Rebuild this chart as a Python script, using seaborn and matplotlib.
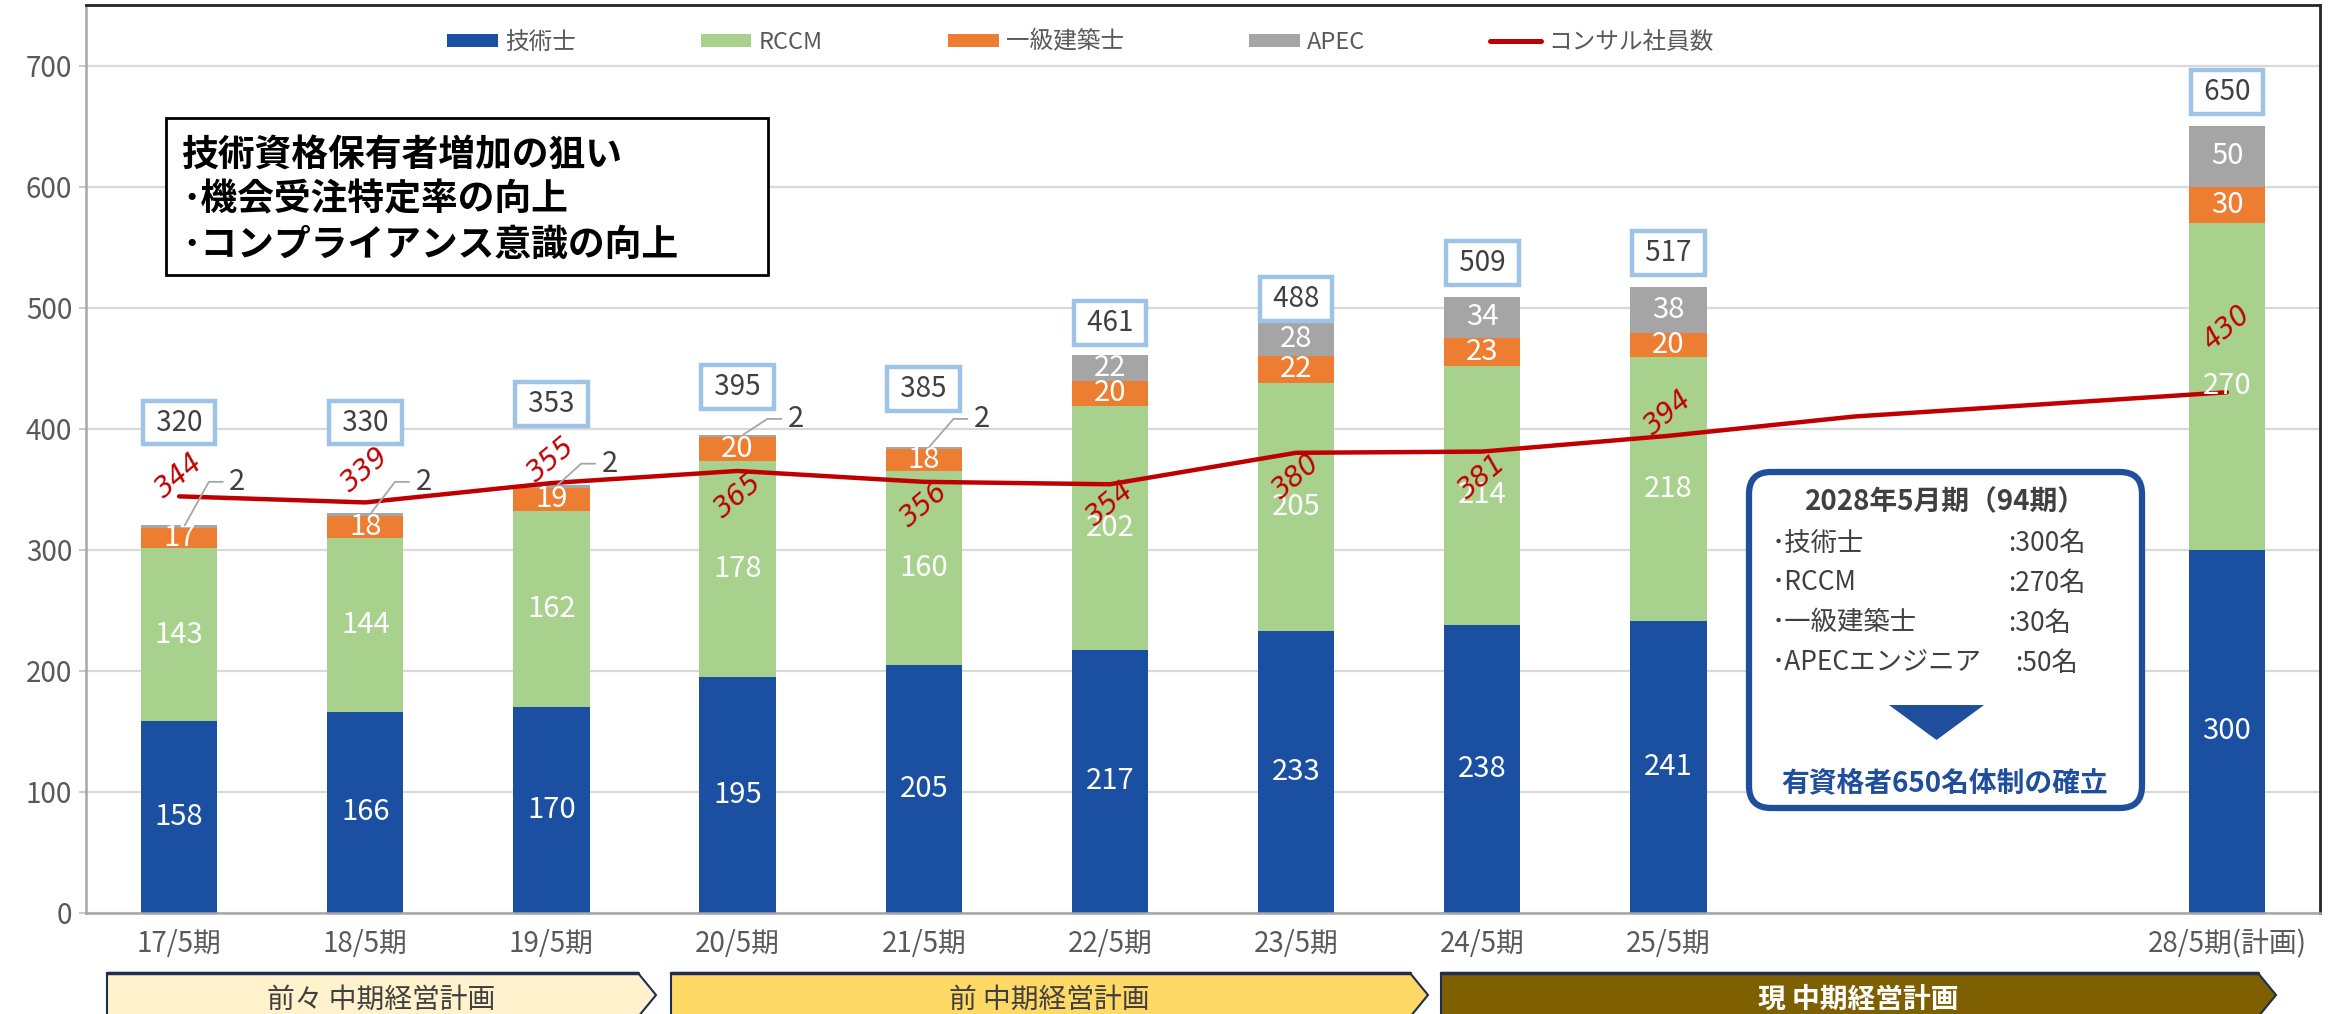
import numpy as np
import pandas as pd
import matplotlib
matplotlib.use("Agg")
import matplotlib.pyplot as plt
import seaborn as sns
from matplotlib.patches import Patch, Polygon, Rectangle, FancyBboxPatch
from matplotlib.lines import Line2D

# ---------------- data ----------------
categories = ["17/5期", "18/5期", "19/5期", "20/5期", "21/5期", "22/5期",
              "23/5期", "24/5期", "25/5期", "26/5期", "27/5期", "28/5期(計画)"]
tick_labels = ["17/5期", "18/5期", "19/5期", "20/5期", "21/5期", "22/5期",
               "23/5期", "24/5期", "25/5期", "", "", "28/5期(計画)"]
bar_categories = ["17/5期", "18/5期", "19/5期", "20/5期", "21/5期", "22/5期",
                  "23/5期", "24/5期", "25/5期", "28/5期(計画)"]
gijutsushi = [158, 166, 170, 195, 205, 217, 233, 238, 241, 300]
rccm = [143, 144, 162, 178, 160, 202, 205, 214, 218, 270]
kenchikushi = [17, 18, 19, 20, 18, 20, 22, 23, 20, 30]
apec = [2, 2, 2, 2, 2, 22, 28, 34, 38, 50]
totals = [320, 330, 353, 395, 385, 461, 488, 509, 517, 650]
consultants = [344, 339, 355, 365, 356, 354, 380, 381, 394, 410, 420, 430]
consultant_labelled = [True] * 9 + [False, False, True]

series_names = ["技術士", "RCCM", "一級建築士", "APEC"]
line_name = "コンサル社員数"
phase_labels = ["前々 中期経営計画", "前 中期経営計画", "現 中期経営計画"]
aim_lines = ["技術資格保有者増加の狙い", "･機会受注特定率の向上", "･コンプライアンス意識の向上"]
target_title = "2028年5月期（94期）"
target_items = ["･技術士", "･RCCM", "･一級建築士", "･APECエンジニア"]
target_values = [":300名", ":270名", ":30名", ":50名"]
target_goal = "有資格者650名体制の確立"

# ---------------- style ----------------
colors = ["#1A4FA1", "#A9D18E", "#ED7D31", "#A5A5A5"]
line_color = "#C00000"
text_gray = "#595959"
dark_gray = "#404040"

sns.set_theme(style="white")
plt.rcParams["font.family"] = ["Noto Sans CJK JP", "DejaVu Sans"]

W, H = 2336, 1014
fig = plt.figure(figsize=(W / 100, H / 100), dpi=100)
ax = fig.add_axes([86 / W, 1 - 912.7 / H, (2320 - 86) / W, (912.7 - 5) / H])

df = pd.DataFrame({
    "cat": bar_categories,
    "s1": gijutsushi,
    "s2": rccm,
    "s3": kenchikushi,
    "s4": apec,
})
df["c1"] = df["s1"]
df["c2"] = df["c1"] + df["s2"]
df["c3"] = df["c2"] + df["s3"]
df["c4"] = df["c3"] + df["s4"]

bw = 0.41
for col, c in zip(["c4", "c3", "c2", "c1"], colors[::-1]):
    sns.barplot(data=df, x="cat", y=col, order=categories, color=c,
                width=bw, saturation=1, errorbar=None, ax=ax, zorder=2,
                linewidth=0)

xpos = np.arange(len(categories))
sns.lineplot(x=xpos, y=consultants, color=line_color, linewidth=3.2,
             ax=ax, zorder=4, legend=False)

ax.set_xlim(-0.5, len(categories) - 0.5)
ax.set_ylim(0, 750)
ax.set_yticks(range(0, 701, 100))
ax.set_xticks(xpos, labels=tick_labels)
ax.set_xlabel("")
ax.set_ylabel("")
ax.yaxis.grid(True, color="#D9D9D9", linewidth=1.6, zorder=0)
ax.set_axisbelow(True)
ax.tick_params(axis="x", length=0, pad=12, labelsize=20, labelcolor=text_gray)
ax.tick_params(axis="y", length=5, width=1.2, color="#BFBFBF", pad=5,
               labelsize=20, labelcolor=text_gray, left=True)
for s in ["left", "bottom"]:
    ax.spines[s].set_color("#A6A6A6")
    ax.spines[s].set_linewidth(1.8)
for s in ["top", "right"]:
    ax.spines[s].set_color("#262626")
    ax.spines[s].set_linewidth(2)

bar_idx = [categories.index(c) for c in bar_categories]

# segment labels
segs = [gijutsushi, rccm, kenchikushi, apec]
leader_dy = [36, 26, 18, 13, 23]
k_leader = 0
for j, i in enumerate(bar_idx):
    base = 0
    for s in segs:
        v = s[j]
        if v >= 5:
            ax.text(i, base + v / 2, str(v), ha="center", va="center",
                    color="white", fontsize=21, zorder=5)
        else:
            top = base + v
            ty = top + leader_dy[k_leader]
            k_leader += 1
            ax.plot([i + 0.03, i + 0.16, i + 0.235], [top, ty, ty],
                    color="#A6A6A6", linewidth=1.3, zorder=5)
            ax.text(i + 0.27, ty, str(v), ha="left", va="center",
                    color=dark_gray, fontsize=21, zorder=5)
        base += v

# total boxes
total_dy = [85, 75, 67, 39, 48, 26, 19, 28, 28, 28]
for j, i in enumerate(bar_idx):
    ax.text(i, totals[j] + total_dy[j], " " + str(totals[j]) + " ",
            ha="center", va="center", color=dark_gray, fontsize=20, zorder=6,
            bbox=dict(boxstyle="square,pad=0.25", fc="white", ec="#9DC3E6", lw=3.2))

# consultant line labels
line_dy = [17, 27, 19, -21, -19, -16, -20, -21, 19, 0, 0, 53]
for i, v in enumerate(consultants):
    if consultant_labelled[i]:
        ax.text(i, v + line_dy[i], str(v), ha="center", va="center",
                color=line_color, fontsize=20, rotation=40, zorder=6,
                family="DejaVu Sans", style="italic")

# legend
handles = [Patch(facecolor=c, edgecolor="none") for c in colors] + \
          [Line2D([0], [0], color=line_color, linewidth=3.6)]
leg = ax.legend(handles, series_names + [line_name], loc="center",
                bbox_to_anchor=(0.445, 719.4 / 750), ncol=5, frameon=False,
                fontsize=17, handlelength=2.15, handleheight=0.47,
                columnspacing=5.3, handletextpad=0.3)
for t in leg.get_texts():
    t.set_color(text_gray)

# ---------------- overlay (pixel coordinates) ----------------
ov = fig.add_axes([0, 0, 1, 1], zorder=10)
ov.set_xlim(0, W)
ov.set_ylim(H, 0)
ov.axis("off")
ov.patch.set_visible(False)

# aim box
ov.add_patch(Rectangle((166, 118), 602, 157, fc="white", ec="black", lw=2))
for k, t in enumerate(aim_lines):
    ov.text(182, 155 + 45 * k, t, ha="left", va="center", fontsize=26.5,
            fontweight="bold", color="black")

# target box
ov.add_patch(FancyBboxPatch((1749, 472), 393, 336,
                            boxstyle="round,pad=0,rounding_size=22",
                            fc="white", ec="#1F4E9C", lw=4.5))
ov.text(1945, 502, target_title, ha="center", va="center", fontsize=20,
        fontweight="bold", color=dark_gray)
for k, (a, b) in enumerate(zip(target_items, target_values)):
    y = 543 + 40 * k
    ov.text(1772, y, a, ha="left", va="center", fontsize=19, color=dark_gray)
    ov.text(2008 if k < 3 else 2015, y, b, ha="left", va="center", fontsize=19,
            color=dark_gray)
ov.add_patch(Polygon([(1889, 705), (1984, 705), (1936.5, 740)], closed=True,
                     fc="#1F4E9C", ec="none"))
ov.text(1945, 783, target_goal, ha="center", va="center", fontsize=20,
        fontweight="bold", color="#1F4E9C")

# phase chevrons
phases = [(107, 656, "#FFF2CC", dark_gray, "normal"),
          (671, 1428, "#FFD966", dark_gray, "normal"),
          (1441, 2276, "#7F6000", "white", "bold")]
for (x0, xt, fc, tc, fw), lab in zip(phases, phase_labels):
    ov.add_patch(Polygon([(x0, 973), (xt - 18, 973), (xt, 995), (xt - 18, 1017),
                          (x0, 1017)], closed=True, fc=fc, ec="#1F2D4F", lw=1.5))
    ov.plot([x0, xt - 18], [973, 973], color="#1F2D4F", lw=2.5)
    ov.text((x0 + xt) / 2, 1000, lab, ha="center", va="center", fontsize=20,
            color=tc, fontweight=fw)

fig.savefig("out.png", dpi=100)
